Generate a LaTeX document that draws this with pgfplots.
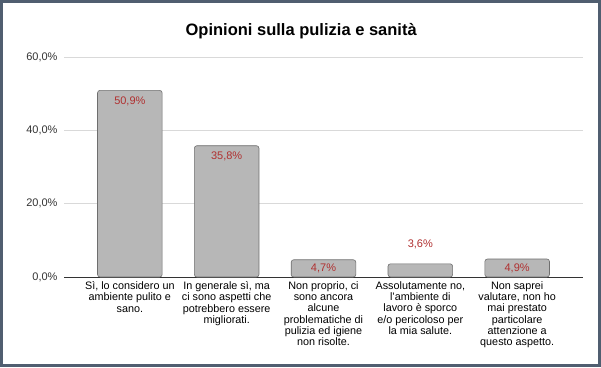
\documentclass[border=0pt]{standalone}
\usepackage{pgfplots}
\pgfplotsset{compat=1.18}
\usepackage{fontspec}
\setmainfont{Liberation Sans}
\definecolor{barfill}{RGB}{183,183,183}
\definecolor{baredge}{RGB}{110,110,110}
\definecolor{lblred}{RGB}{176,48,48}
\definecolor{gridc}{RGB}{217,217,217}
\definecolor{framec}{RGB}{80,94,112}
\definecolor{txtc}{RGB}{51,51,51}
\begin{document}
\begin{tikzpicture}[x=1pt,y=1pt]
\fill[white] (0,0) rectangle (601,367);
\begin{axis}[
  at={(64pt,90pt)}, anchor=south west,
  scale only axis, width=519pt, height=220pt,
  xmin=-0.68, xmax=4.68, ymin=0, ymax=60,
  ytick={0,20,40,60},
  yticklabels={0{,}0\%,20{,}0\%,40{,}0\%,60{,}0\%},
  yticklabel style={font=\fontsize{11}{13}\selectfont, text=txtc, xshift=-3pt},
  xtick={0,1,2,3,4},
  xticklabels={
    {Sì, lo considero un\\ambiente pulito e\\sano.},
    {In generale sì, ma\\ci sono aspetti che\\potrebbero essere\\migliorati.},
    {Non proprio, ci\\sono ancora\\alcune\\problematiche di\\pulizia ed igiene\\non risolte.},
    {Assolutamente no,\\l'ambiente di\\lavoro è sporco\\e/o pericoloso per\\la mia salute.},
    {Non saprei\\valutare, non ho\\mai prestato\\particolare\\attenzione a\\questo aspetto.}},
  xticklabel style={font=\fontsize{10.8}{11.3}\selectfont, align=center, anchor=north, yshift=-1pt, text=black},
  major tick length=0pt,
  ymajorgrids, grid style={gridc, line width=0.8pt},
  axis x line*=bottom, axis y line*=left,
  y axis line style={draw=none},
  x axis line style={txtc, line width=0.8pt, -},
  clip=false,
  ybar, bar width=64.6pt,
  title={\textbf{Opinioni sulla pulizia e sanità}},
  title style={font=\fontsize{16.5}{19}\selectfont, at={(0.457,1)}, yshift=9pt},
  /pgf/number format/assume math mode=true,
]
\addplot[fill=barfill, draw=baredge, line width=0.6pt, rounded corners=2.5pt,
  visualization depends on={value \thisrow{off} \as \off},
  nodes near coords={\pgfmathprintnumber[fixed,fixed zerofill,precision=1,use comma]{\pgfplotspointmeta}\%},
  every node near coord/.append style={font=\fontsize{11}{13}\selectfont, text=lblred, anchor=center, yshift=\off pt},
] table[x=x,y=y] {
x y off
0 50.9 -11
1 35.8 -11
2 4.7 -9
3 3.6 19
4 4.9 -9
};
\end{axis}
\draw[framec, line width=2.6pt] (1.3,1.3) rectangle (599.7,365.7);
\end{tikzpicture}
\end{document}
